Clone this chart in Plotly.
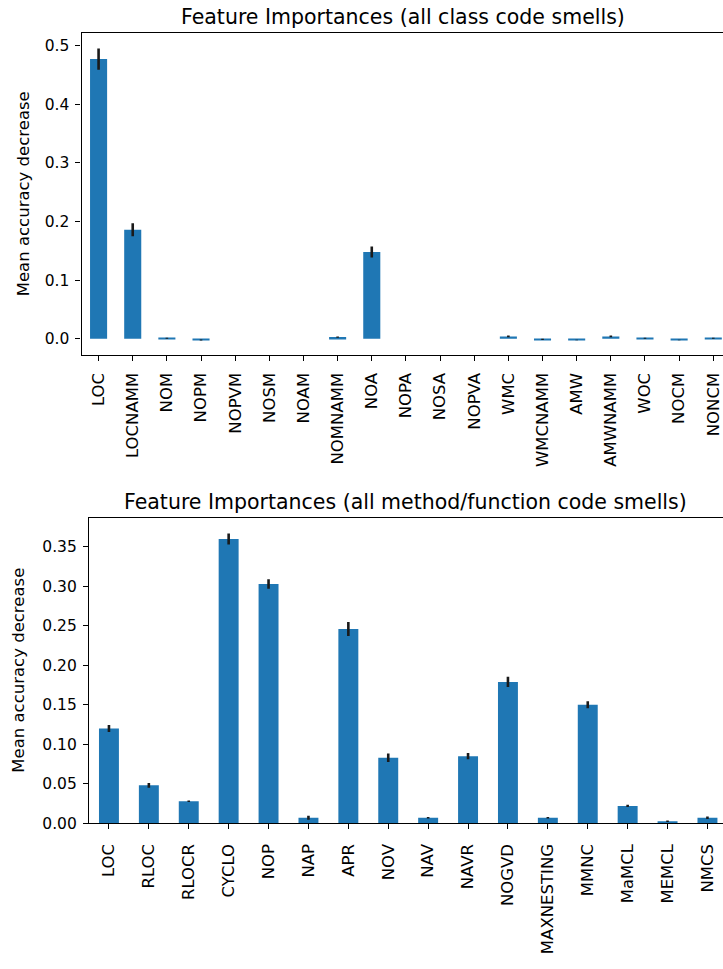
import plotly.graph_objects as go

# ---- data: class code smells ----
class_features = ["LOC", "LOCNAMM", "NOM", "NOPM", "NOPVM", "NOSM", "NOAM", "NOMNAMM",
                  "NOA", "NOPA", "NOSA", "NOPVA", "WMC", "WMCNAMM", "AMW", "AMWNAMM",
                  "WOC", "NOCM", "NONCM"]
class_importance = [0.477, 0.186, 0.001, -0.002, 0.0, 0.0, 0.0, 0.003,
                    0.148, 0.0, 0.0, 0.0, 0.004, -0.001, -0.002, 0.004,
                    0.001, -0.002, 0.001]
class_std = [0.018, 0.011, 0.001, 0.001, 0.0, 0.0, 0.0, 0.001,
             0.0095, 0.0, 0.0, 0.0, 0.0015, 0.001, 0.0005, 0.0015,
             0.001, 0.0005, 0.001]

# ---- data: method/function code smells ----
method_features = ["LOC", "RLOC", "RLOCR", "CYCLO", "NOP", "NAP", "APR", "NOV", "NAV",
                   "NAVR", "NOGVD", "MAXNESTING", "MMNC", "MaMCL", "MEMCL", "NMCS"]
method_importance = [0.120, 0.048, 0.028, 0.360, 0.303, 0.007, 0.246, 0.083, 0.007,
                     0.085, 0.179, 0.007, 0.150, 0.022, 0.0025, 0.007]
method_std = [0.0045, 0.003, 0.001, 0.007, 0.006, 0.0025, 0.0088, 0.0053, 0.001,
              0.004, 0.0065, 0.001, 0.0044, 0.0015, 0.001, 0.0015]

top_title = "Feature Importances (all class code smells)"
bottom_title = "Feature Importances (all method/function code smells)"
ylabel = "Mean accuracy decrease"

W, H = 723, 969
BAR = "#1f77b4"
FONT = "DejaVu Sans"
YTICKFONT = dict(family=FONT, size=15.5, color="#000")
XTICKFONT = dict(family=FONT, size=16.5, color="#000")

fig = go.Figure()
fig.add_trace(go.Bar(
    x=class_features, y=class_importance, marker=dict(color=BAR, line=dict(width=0)),
    error_y=dict(type="data", array=class_std, color="#1a1a1a", thickness=2.6, width=0),
    xaxis="x", yaxis="y", width=0.5, showlegend=False))
fig.add_trace(go.Bar(
    x=method_features, y=method_importance, marker=dict(color=BAR, line=dict(width=0)),
    error_y=dict(type="data", array=method_std, color="#1a1a1a", thickness=2.6, width=0),
    xaxis="x2", yaxis="y2", width=0.5, showlegend=False))

# pixel geometry
t_left, t_top, t_bot, t_step = 81.5, 33.7, 358.5, 34.15
b_left, b_top, b_bot, b_step = 89.0, 523.0, 831.0, 39.9

axis_common = dict(showline=True, linecolor="#000", linewidth=1.2, ticks="outside",
                   ticklen=5, tickwidth=1.2, tickcolor="#000", showgrid=False,
                   zeroline=False)

fig.update_layout(
    width=W, height=H, margin=dict(l=0, r=0, t=0, b=0),
    paper_bgcolor="white", plot_bgcolor="white", bargap=0.5,
    xaxis=dict(domain=[t_left / W, 1.0], anchor="y", type="category",
               range=[-0.5, -0.5 + (W - t_left) / t_step], tickangle=-90,
               mirror=True, ticklabelstandoff=5, ticklabeloverflow="allow",
               tickfont=XTICKFONT, **axis_common),
    yaxis=dict(domain=[1 - t_bot / H, 1 - t_top / H], anchor="x",
               range=[-0.0279, 0.5208], tickvals=[0.0, 0.1, 0.2, 0.3, 0.4, 0.5],
               ticktext=["0.0", "0.1", "0.2", "0.3", "0.4", "0.5"],
               ticklabelstandoff=3, tickfont=YTICKFONT, **axis_common),
    xaxis2=dict(domain=[b_left / W, 1.0], anchor="y2", type="category",
                range=[-0.5, -0.5 + (W - b_left) / b_step], tickangle=-90,
                mirror=True, ticklabelstandoff=8, ticklabeloverflow="allow",
                tickfont=XTICKFONT, **axis_common),
    yaxis2=dict(domain=[1 - b_bot / H, 1 - b_top / H], anchor="x2",
                range=[0, 0.3864], tickvals=[0, 0.05, 0.10, 0.15, 0.20, 0.25, 0.30, 0.35],
                ticktext=["0.00", "0.05", "0.10", "0.15", "0.20", "0.25", "0.30", "0.35"],
                ticklabelstandoff=3, tickfont=YTICKFONT, **axis_common),
)

ann_font = dict(family=FONT, size=20.5, color="#000")
fig.add_annotation(text=top_title, x=403 / W, y=1 - 17 / H, xref="paper", yref="paper",
                   showarrow=False, font=ann_font, xanchor="center", yanchor="middle")
fig.add_annotation(text=bottom_title, x=405 / W, y=1 - 507 / H, xref="paper", yref="paper",
                   showarrow=False, font=ann_font, xanchor="center", yanchor="middle")
lab_font = dict(family=FONT, size=16.5, color="#000")
fig.add_annotation(text=ylabel, x=23 / W, y=1 - (t_top + t_bot) / 2 / H, xref="paper",
                   yref="paper", showarrow=False, font=lab_font, textangle=-90,
                   xanchor="center", yanchor="middle")
fig.add_annotation(text=ylabel, x=19 / W, y=1 - (b_top + b_bot) / 2 / H, xref="paper",
                   yref="paper", showarrow=False, font=lab_font, textangle=-90,
                   xanchor="center", yanchor="middle")

fig.write_html(
    "out.html",
    config={"displayModeBar": False},
    post_script="document.body.style.margin='0px';document.body.style.overflow='hidden';",
)
